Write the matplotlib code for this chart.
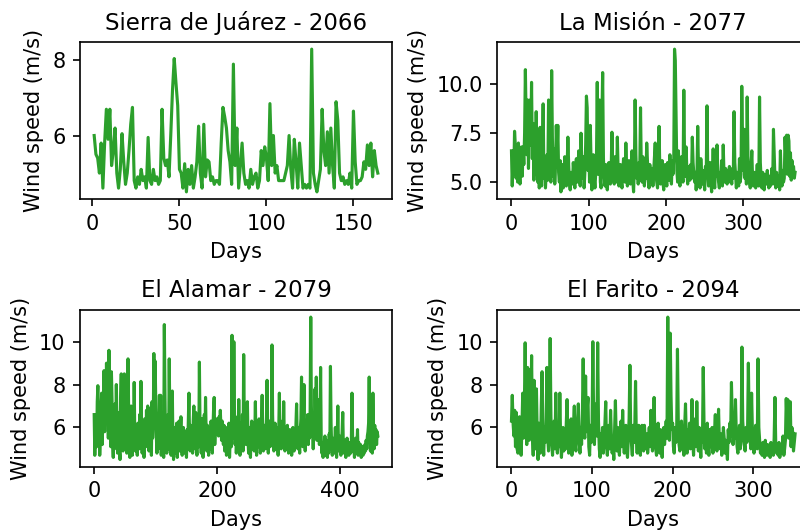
import matplotlib.pyplot as plt

# velocidad de viento diaria (m/s) por sitio
sierra = [
    6.0, 5.5, 5.4, 5.0, 5.8, 4.6, 5.8, 6.7, 5.9, 6.7,
    5.2, 5.6, 6.2, 5.0, 4.6, 5.1, 6.05, 5.3, 4.7, 5.0,
    5.6, 6.3, 6.75, 4.8, 4.6, 4.9, 4.7, 5.1, 4.8, 4.9,
    4.6, 5.95, 4.8, 4.7, 5.1, 4.8, 4.9, 4.7, 4.8, 6.7,
    5.4, 5.2, 5.35, 4.9, 6.0, 7.2, 8.05, 7.4, 6.8, 5.1,
    5.0, 4.6, 5.25, 4.5, 5.1, 4.7, 5.2, 4.6, 4.9, 5.3,
    6.25, 5.0, 4.6, 6.3, 4.9, 5.35, 5.3, 4.8, 4.9, 4.7,
    4.8, 4.8, 4.7, 5.8, 6.75, 6.5, 6.2, 5.6, 5.3, 4.7,
    7.9, 5.2, 6.2, 4.6, 5.2, 5.8, 5.0, 4.7, 4.8, 4.6,
    5.1, 4.7, 4.9, 5.0, 4.6, 4.8, 5.6, 5.2, 5.7, 5.4,
    4.8, 6.85, 5.2, 6.0, 5.0, 5.2, 4.8, 4.8, 4.8, 4.8,
    5.0, 5.2, 6.0, 5.1, 4.6, 5.9, 5.3, 4.6, 5.8, 5.2,
    4.6, 4.7, 4.6, 4.7, 4.6, 8.3, 5.0, 4.7, 4.5, 4.8,
    5.1, 6.7, 5.6, 5.2, 6.1, 5.0, 6.2, 5.2, 4.6, 6.9,
    6.4, 5.0, 4.8, 4.9, 4.7, 4.8, 4.7, 5.0, 4.6, 6.65,
    5.3, 4.7, 4.8, 4.8, 4.9, 5.3, 5.1, 5.75, 5.2, 5.8,
    4.9, 5.6, 5.2, 5.0,
]

mision = [
    6.6, 4.8, 6.2, 5.4, 7.6, 6.9, 5.2, 6.0, 5.0, 7.0,
    5.6, 4.9, 6.3, 6.8, 5.3, 6.8, 5.9, 7.5, 10.75, 8.1,
    6.4, 9.2, 5.7, 8.3, 9.2, 6.9, 10.1, 6.2, 8.0, 5.1,
    6.8, 5.4, 8.6, 6.1, 5.0, 7.3, 4.7, 7.8, 5.5, 4.8,
    6.5, 9.0, 5.2, 6.0, 4.7, 5.6, 6.4, 5.1, 9.2, 6.6,
    5.8, 5.0, 10.7, 7.1, 5.3, 6.7, 4.9, 5.8, 7.9, 6.4,
    7.9, 5.5, 5.0, 6.1, 4.5, 5.4, 5.9, 4.7, 5.2, 6.3,
    5.0, 4.8, 5.7, 7.3, 5.9, 5.0, 4.6, 5.5, 5.2, 4.9,
    6.0, 5.3, 4.7, 5.8, 6.2, 5.0, 5.5, 6.6, 5.1, 4.8,
    7.5, 5.9, 5.2, 6.3, 4.7, 5.5, 6.9, 9.4, 8.8, 5.6,
    7.1, 5.0, 7.9, 6.0, 4.6, 5.8, 6.4, 5.2, 4.7, 5.5,
    6.2, 10.1, 5.4, 6.8, 9.2, 5.0, 4.7, 8.1, 10.6, 6.2,
    5.3, 4.8, 5.9, 5.1, 4.6, 5.4, 6.0, 5.2, 4.9, 5.6,
    7.55, 5.8, 5.1, 4.9, 6.3, 5.4, 5.0, 7.3, 5.6, 4.8,
    5.2, 5.9, 5.0, 4.7, 5.5, 6.2, 5.3, 5.0, 7.0, 5.6,
    4.8, 5.2, 6.1, 5.4, 4.9, 5.3, 6.6, 5.1, 4.5, 5.7,
    9.2, 6.4, 5.2, 5.8, 4.9, 6.0, 5.5, 8.8, 5.6, 5.0,
    6.3, 5.4, 4.8, 5.6, 5.2, 7.0, 6.0, 5.1, 4.7, 5.9,
    5.3, 5.0, 5.7, 4.8, 5.5, 6.2, 7.0, 5.4, 5.0, 4.7,
    5.8, 7.85, 5.5, 4.9, 5.3, 6.1, 5.0, 4.6, 5.4, 5.9,
    5.2, 4.8, 6.0, 5.5, 5.1, 6.4, 5.3, 4.9, 6.1, 5.4,
    6.2, 11.8, 11.2, 8.4, 5.6, 5.0, 6.6, 5.2, 4.8, 5.7,
    6.3, 5.4, 5.0, 9.7, 6.1, 5.3, 6.8, 5.5, 4.9, 5.8,
    5.6, 5.1, 5.9, 5.2, 7.3, 6.0, 5.4, 5.0, 5.5, 4.6,
    5.3, 7.85, 5.7, 5.1, 4.7, 6.2, 5.4, 4.9, 5.6, 5.0,
    4.6, 5.8, 5.3, 8.9, 5.5, 4.8, 5.2, 6.0, 5.0, 4.5,
    5.4, 6.7, 5.1, 4.7, 5.9, 5.3, 6.9, 5.6, 5.0, 4.7,
    5.5, 5.2, 6.1, 4.8, 6.9, 5.4, 5.0, 5.7, 5.1, 4.9,
    5.6, 5.3, 5.8, 5.0, 5.4, 4.9, 5.7, 5.2, 8.6, 6.0,
    5.3, 4.7, 5.5, 5.1, 4.8, 6.2, 5.0, 5.4, 9.9, 7.2,
    5.6, 7.7, 5.2, 6.0, 4.9, 9.35, 6.3, 5.4, 5.0, 4.7,
    5.8, 6.6, 5.1, 4.8, 5.5, 5.0, 4.7, 5.3, 5.9, 5.1,
    4.8, 9.35, 6.0, 5.2, 4.7, 5.5, 5.0, 4.6, 5.4, 5.1,
    4.9, 5.6, 5.0, 4.7, 5.3, 4.8, 5.2, 5.7, 4.9, 7.7,
    6.4, 5.1, 4.7, 5.5, 4.8, 5.0, 5.3, 4.6, 6.6, 5.2,
    4.8, 5.6, 5.0, 5.2, 7.3, 6.2, 7.4, 5.4, 7.4, 7.1,
    5.3, 6.5, 5.1, 6.1, 5.6, 5.8, 5.2, 5.5,
]

alamar = [
    6.6, 4.7, 5.9, 6.4, 5.1, 7.2, 7.95, 5.3, 6.8, 4.7,
    5.6, 7.0, 7.6, 5.2, 6.3, 7.1, 8.65, 5.8, 7.4, 6.2,
    9.0, 6.5, 7.8, 5.5, 9.6, 8.2, 6.0, 5.1, 8.6, 7.3,
    5.4, 4.6, 6.9, 5.0, 7.1, 5.8, 8.0, 6.2, 4.8, 5.5,
    6.7, 5.0, 4.5, 7.4, 8.5, 5.7, 6.1, 4.9, 5.3, 8.5,
    6.4, 5.2, 7.6, 4.8, 6.0, 9.2, 6.8, 5.1, 4.6, 5.9,
    7.0, 5.4, 4.7, 6.3, 5.0, 8.1, 5.6, 4.9, 5.3, 5.8,
    4.7, 6.2, 5.5, 5.0, 6.6, 5.2, 8.15, 5.7, 4.8, 6.0,
    5.3, 4.6, 6.4, 5.9, 5.1, 6.8, 5.4, 7.0, 5.8, 4.9,
    6.3, 5.2, 6.9, 4.7, 7.2, 5.5, 6.1, 9.45, 6.2, 9.1,
    7.4, 5.6, 4.8, 6.5, 5.0, 6.0, 7.5, 5.3, 7.5, 4.7,
    5.9, 6.4, 5.1, 4.6, 10.8, 7.7, 5.2, 6.3, 4.8, 5.7,
    6.6, 5.0, 9.2, 6.1, 5.4, 4.7, 5.8, 7.7, 5.2, 4.5,
    6.0, 5.3, 4.8, 5.6, 6.2, 4.6, 5.5, 5.0, 6.3, 4.9,
    5.7, 6.5, 5.1, 4.7, 5.4, 6.0, 5.2, 4.8, 5.8, 5.3,
    4.6, 5.9, 5.0, 6.4, 7.6, 5.5, 4.9, 6.1, 5.2, 5.7,
    4.8, 6.3, 7.0, 5.4, 5.0, 6.7, 5.3, 4.7, 5.9, 6.2,
    5.1, 9.05, 6.0, 5.5, 4.8, 6.4, 5.2, 4.6, 5.8, 6.6,
    5.3, 7.4, 5.7, 4.9, 6.1, 5.5, 4.7, 6.0, 5.4, 5.0,
    6.3, 5.6, 4.8, 5.9, 6.8, 7.4, 5.2, 6.1, 5.7, 6.4,
    5.9, 6.2, 5.6, 6.5, 5.8, 6.8, 6.0, 5.4, 6.3, 5.7,
    5.2, 6.1, 4.9, 5.5, 6.0, 4.7, 5.3, 5.8, 5.0, 6.2,
    4.6, 5.4, 5.9, 5.1, 10.3, 6.4, 5.5, 10.0, 6.8, 5.2,
    6.1, 4.8, 5.7, 6.5, 5.0, 7.3, 5.4, 4.7, 6.2, 5.6,
    5.1, 6.6, 4.9, 9.4, 6.3, 5.5, 6.9, 5.2, 5.8, 7.2,
    5.4, 4.8, 6.0, 5.1, 4.6, 5.7, 6.3, 5.0, 5.5, 6.1,
    4.9, 5.6, 7.2, 5.3, 4.7, 6.0, 5.4, 5.1, 6.4, 5.8,
    4.8, 5.5, 6.2, 7.5, 5.2, 4.9, 5.7, 6.1, 5.0, 5.6,
    6.5, 8.2, 5.4, 4.8, 5.9, 6.3, 5.1, 5.6, 6.0, 9.85,
    6.6, 5.3, 4.9, 5.8, 6.2, 5.0, 5.5, 6.0, 5.2, 4.7,
    5.9, 7.6, 5.4, 6.1, 5.0, 5.7, 6.3, 5.2, 7.2, 5.6,
    4.9, 5.5, 5.8, 5.1, 6.1, 5.3, 4.8, 5.6, 5.9, 5.0,
    5.4, 4.7, 5.7, 6.0, 5.2, 4.9, 5.8, 5.3, 6.2, 7.1,
    5.5, 5.0, 6.0, 5.4, 4.8, 5.9, 6.4, 8.35, 5.7, 5.1,
    6.3, 8.0, 5.6, 4.9, 6.1, 5.3, 5.8, 6.6, 5.2, 6.0,
    5.5, 6.8, 11.15, 7.0, 5.6, 6.2, 5.0, 6.4, 5.8, 7.8,
    6.1, 8.35, 5.4, 6.7, 5.9, 7.3, 5.2, 6.0, 8.8, 5.5,
    4.8, 5.3, 4.6, 5.1, 4.9, 5.6, 4.7, 5.0, 5.4, 4.6,
    5.2, 4.8, 5.7, 5.0, 8.85, 6.2, 5.1, 4.7, 5.5, 5.0,
    4.8, 5.3, 6.0, 5.1, 4.6, 5.4, 7.0, 5.2, 4.9, 5.6,
    5.0, 4.7, 5.3, 5.8, 6.7, 5.1, 4.8, 5.4, 5.0, 4.6,
    5.2, 5.5, 4.9, 5.1, 4.7, 5.3, 5.0, 4.8, 5.4, 7.6,
    5.6, 4.9, 5.2, 4.6, 5.0, 5.5, 4.8, 5.1, 5.9, 4.7,
    5.3, 5.0, 4.8, 5.2, 4.6, 4.9, 5.1, 4.7, 5.0, 4.8,
    5.2, 4.9, 5.4, 5.0, 5.6, 5.8, 6.2, 8.35, 5.5, 4.9,
    6.0, 5.3, 4.8, 7.6, 5.7, 5.0, 6.1, 5.4, 5.9, 5.2,
    5.8, 5.6,
]

farito = [
    6.3, 7.5, 6.2, 5.6, 6.8, 5.1, 6.7, 5.0, 4.8, 5.9,
    6.5, 5.3, 4.7, 6.0, 7.6, 5.5, 6.9, 9.95, 6.4, 5.2,
    8.8, 6.1, 5.4, 8.7, 6.6, 9.35, 5.8, 4.7, 8.2, 6.3,
    5.0, 7.8, 5.5, 4.5, 6.2, 5.1, 4.8, 7.0, 8.6, 5.4,
    4.7, 6.0, 5.3, 6.4, 8.8, 5.6, 4.9, 6.1, 10.15, 6.5,
    5.2, 4.7, 5.8, 6.3, 5.0, 7.6, 5.4, 4.8, 5.7, 5.1,
    7.6, 5.5, 4.6, 5.2, 6.0, 4.9, 5.6, 5.0, 6.2, 7.3,
    5.3, 4.8, 5.9, 5.1, 6.4, 4.7, 5.5, 6.1, 7.0, 5.2,
    4.9, 5.7, 6.3, 7.1, 5.4, 4.8, 6.0, 5.2, 6.6, 9.2,
    6.2, 5.5, 8.4, 5.8, 6.9, 7.4, 5.1, 4.7, 6.1, 5.3,
    5.9, 10.0, 6.4, 5.2, 6.8, 7.1, 5.6, 9.95, 6.3, 5.0,
    4.6, 5.7, 5.3, 6.0, 4.8, 5.5, 6.2, 7.2, 5.1, 4.7,
    5.4, 6.1, 5.0, 6.8, 5.6, 4.8, 5.3, 4.5, 5.9, 7.25,
    5.5, 4.9, 6.0, 5.2, 4.7, 5.8, 6.3, 5.1, 6.8, 5.4,
    4.8, 5.6, 6.1, 5.0, 4.6, 5.5, 6.4, 8.9, 5.7, 5.2,
    4.7, 6.1, 5.3, 5.9, 8.15, 5.4, 4.8, 5.6, 6.1, 5.0,
    4.7, 5.8, 6.1, 5.2, 4.9, 6.1, 5.4, 5.0, 5.7, 4.8,
    5.3, 6.0, 5.1, 6.8, 5.5, 4.9, 5.8, 7.4, 5.6, 5.0,
    4.7, 5.4, 6.2, 5.1, 4.8, 5.9, 5.3, 4.6, 5.6, 6.0,
    5.2, 5.8, 6.3, 5.5, 11.15, 6.0, 5.4, 10.4, 7.5, 5.9,
    6.2, 5.1, 4.8, 6.0, 5.3, 5.7, 9.65, 6.4, 5.2, 4.9,
    5.8, 6.3, 5.0, 5.5, 4.7, 6.1, 7.1, 5.4, 4.8, 5.9,
    5.2, 6.2, 5.0, 5.6, 7.3, 5.3, 4.7, 5.8, 6.4, 5.1,
    7.2, 5.5, 4.9, 6.0, 5.2, 4.6, 5.7, 5.3, 8.8, 6.1,
    5.0, 5.6, 4.8, 6.2, 5.4, 4.7, 5.9, 5.1, 5.5, 6.0,
    4.8, 5.3, 5.8, 6.6, 5.1, 4.9, 5.6, 6.85, 5.4, 5.0,
    5.7, 4.7, 5.2, 6.0, 5.5, 4.8, 5.4, 5.1, 4.5, 5.9,
    5.3, 6.2, 5.6, 8.1, 6.4, 5.2, 6.0, 5.5, 7.3, 5.8,
    5.1, 4.8, 5.6, 6.1, 5.0, 5.4, 9.75, 6.3, 5.7, 5.2,
    4.9, 6.0, 5.3, 5.8, 9.0, 6.2, 5.5, 5.0, 7.6, 5.9,
    5.2, 4.8, 5.6, 6.1, 5.3, 5.0, 9.2, 6.0, 5.4, 4.8,
    5.1, 4.7, 5.3, 5.0, 4.6, 5.4, 4.9, 4.7, 5.2, 4.8,
    5.0, 4.6, 5.3, 4.8, 5.1, 4.7, 5.5, 7.4, 5.2, 4.8,
    5.0, 4.7, 5.3, 4.6, 4.9, 5.2, 4.8, 5.6, 4.7, 5.0,
    5.4, 7.35, 6.2, 7.3, 5.5, 6.8, 7.2, 5.1, 6.0, 5.8,
    4.9, 5.3, 5.7,
]

titles = ['Sierra de Juárez - 2066', 'La Misión - 2077',
          'El Alamar - 2079', 'El Farito - 2094']
series = [sierra, mision, alamar, farito]
first_day = [1, 0, 0, 0]
xticks = [[0, 50, 100, 150], [0, 100, 200, 300], [0, 200, 400], [0, 100, 200, 300]]
yticks = [[6, 8], [5.0, 7.5, 10.0], [6, 8, 10], [6, 8, 10]]

# la imagen original esta recortada a la derecha
positions = [[0.100, 0.6252, 0.390, 0.2957],
             [0.6216, 0.6252, 0.390, 0.2957],
             [0.100, 0.1211, 0.390, 0.2951],
             [0.6216, 0.1211, 0.390, 0.2951]]

fig = plt.figure(figsize=(800 / 150, 531 / 150), dpi=150)
for i in range(4):
    ax = fig.add_axes(positions[i])
    vals = series[i]
    days = list(range(first_day[i], first_day[i] + len(vals)))
    ax.plot(days, vals, color='tab:green')
    ax.set_xticks(xticks[i])
    ax.set_yticks(yticks[i])
    ax.set_title(titles[i], fontsize=11)
    ax.set_xlabel('Days')
    ax.set_ylabel('Wind speed (m/s)')
    if i % 2 == 1:
        # el borde derecho queda fuera de la imagen
        ax.spines['right'].set_visible(False)

fig.savefig('out.png', dpi=150)
